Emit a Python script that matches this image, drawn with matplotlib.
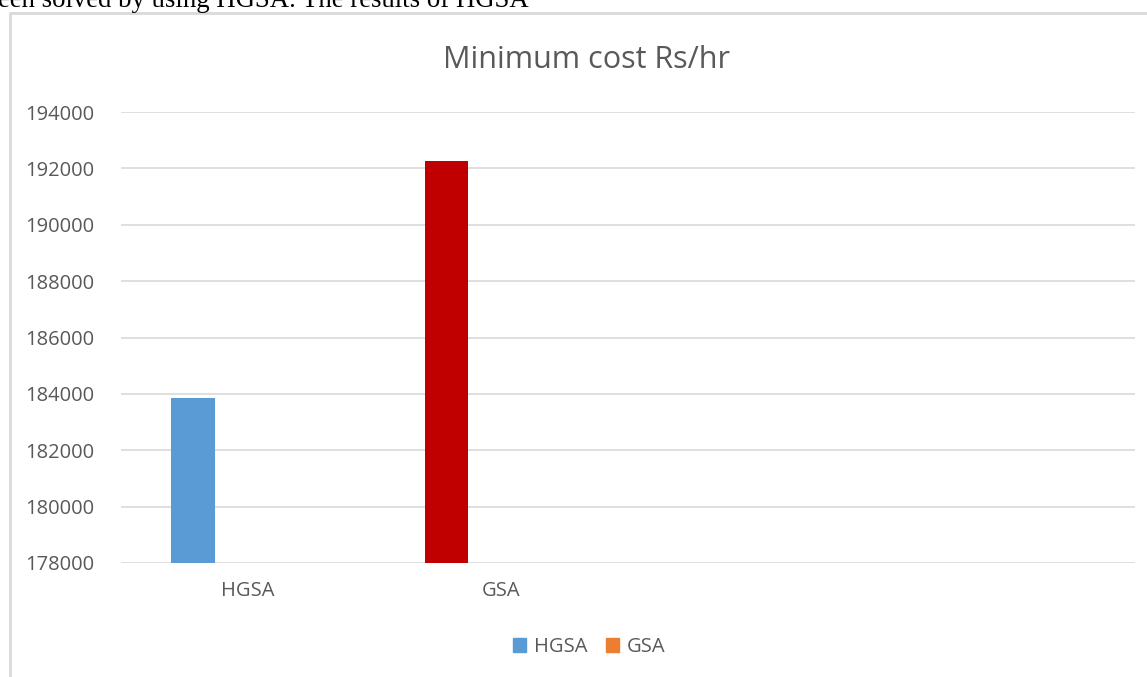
import numpy as np
import matplotlib
matplotlib.use('Agg')
import matplotlib.pyplot as plt
from matplotlib.patches import Patch, Rectangle

## chart data
categories  = ['HGSA', 'GSA', '', '']
hgsa_cost   = [183870, 192250]      # first series, GSA point recoloured red
gsa_cost    = []                    # second series, nothing visible
y_ticks     = [178000, 180000, 182000, 184000, 186000, 188000, 190000, 192000, 194000]
title       = 'Minimum cost Rs/hr'
page_text   = 'een solved by using HGSA. The results of HGSA'

TXT  = '#595959'
GRID = '#d9d9d9'
plt.rcParams['font.family'] = ['Open Sans', 'DejaVu Sans']

fig = plt.figure(figsize=(11.47, 6.77), dpi=100)
fig.patch.set_facecolor('white')

## page text cut by the screenshot
fig.text(-0.002, 1.018, page_text, family='Liberation Serif', fontsize=19.3,
         color='black', ha='left', va='top')

## chart border
fig.patches.append(Rectangle((10/1147, -0.05), 1.2, 1 - 13/677 + 0.05,
                             transform=fig.transFigure, fill=False,
                             edgecolor=GRID, lw=2))

ax = fig.add_axes([121/1147, 114/677, 1014/1147, 451/677])
x = np.arange(len(categories))
ax.bar(x[:len(hgsa_cost)] - 0.216, np.array(hgsa_cost) - 178000, bottom=178000,
       width=0.171, color=['#5b9bd5', '#c00000'], zorder=3)
if gsa_cost:
    ax.bar(x[:len(gsa_cost)] + 0.216, np.array(gsa_cost) - 178000, bottom=178000,
           width=0.171, color='#ed7d31', zorder=3)

ax.set_xlim(-0.5, len(categories) - 0.5)
ax.set_ylim(y_ticks[0], y_ticks[-1])
ax.set_yticks(y_ticks)
ax.set_yticklabels([str(v) for v in y_ticks])
ax.set_xticks(x)
ax.set_xticklabels(categories)
ax.tick_params(length=0, colors=TXT, labelsize=14.5)
ax.tick_params(axis='y', pad=19)
ax.tick_params(axis='x', pad=13)
ax.grid(axis='y', color=GRID, lw=1.2, zorder=0)
for s in ax.spines.values():
    s.set_visible(False)

fig.text(0.511, 0.911, title, ha='center', va='center', color=TXT, fontsize=22)

handles = [Patch(color='#5b9bd5', label='HGSA'), Patch(color='#ed7d31', label='GSA')]
fig.legend(handles=handles, loc='center', bbox_to_anchor=(0.514, 1 - 647/677), ncol=2,
           frameon=False, fontsize=14.5, labelcolor=TXT, handlelength=0.65,
           handleheight=0.65, handletextpad=0.4, columnspacing=0.9)

fig.savefig('out.png', dpi=100)
